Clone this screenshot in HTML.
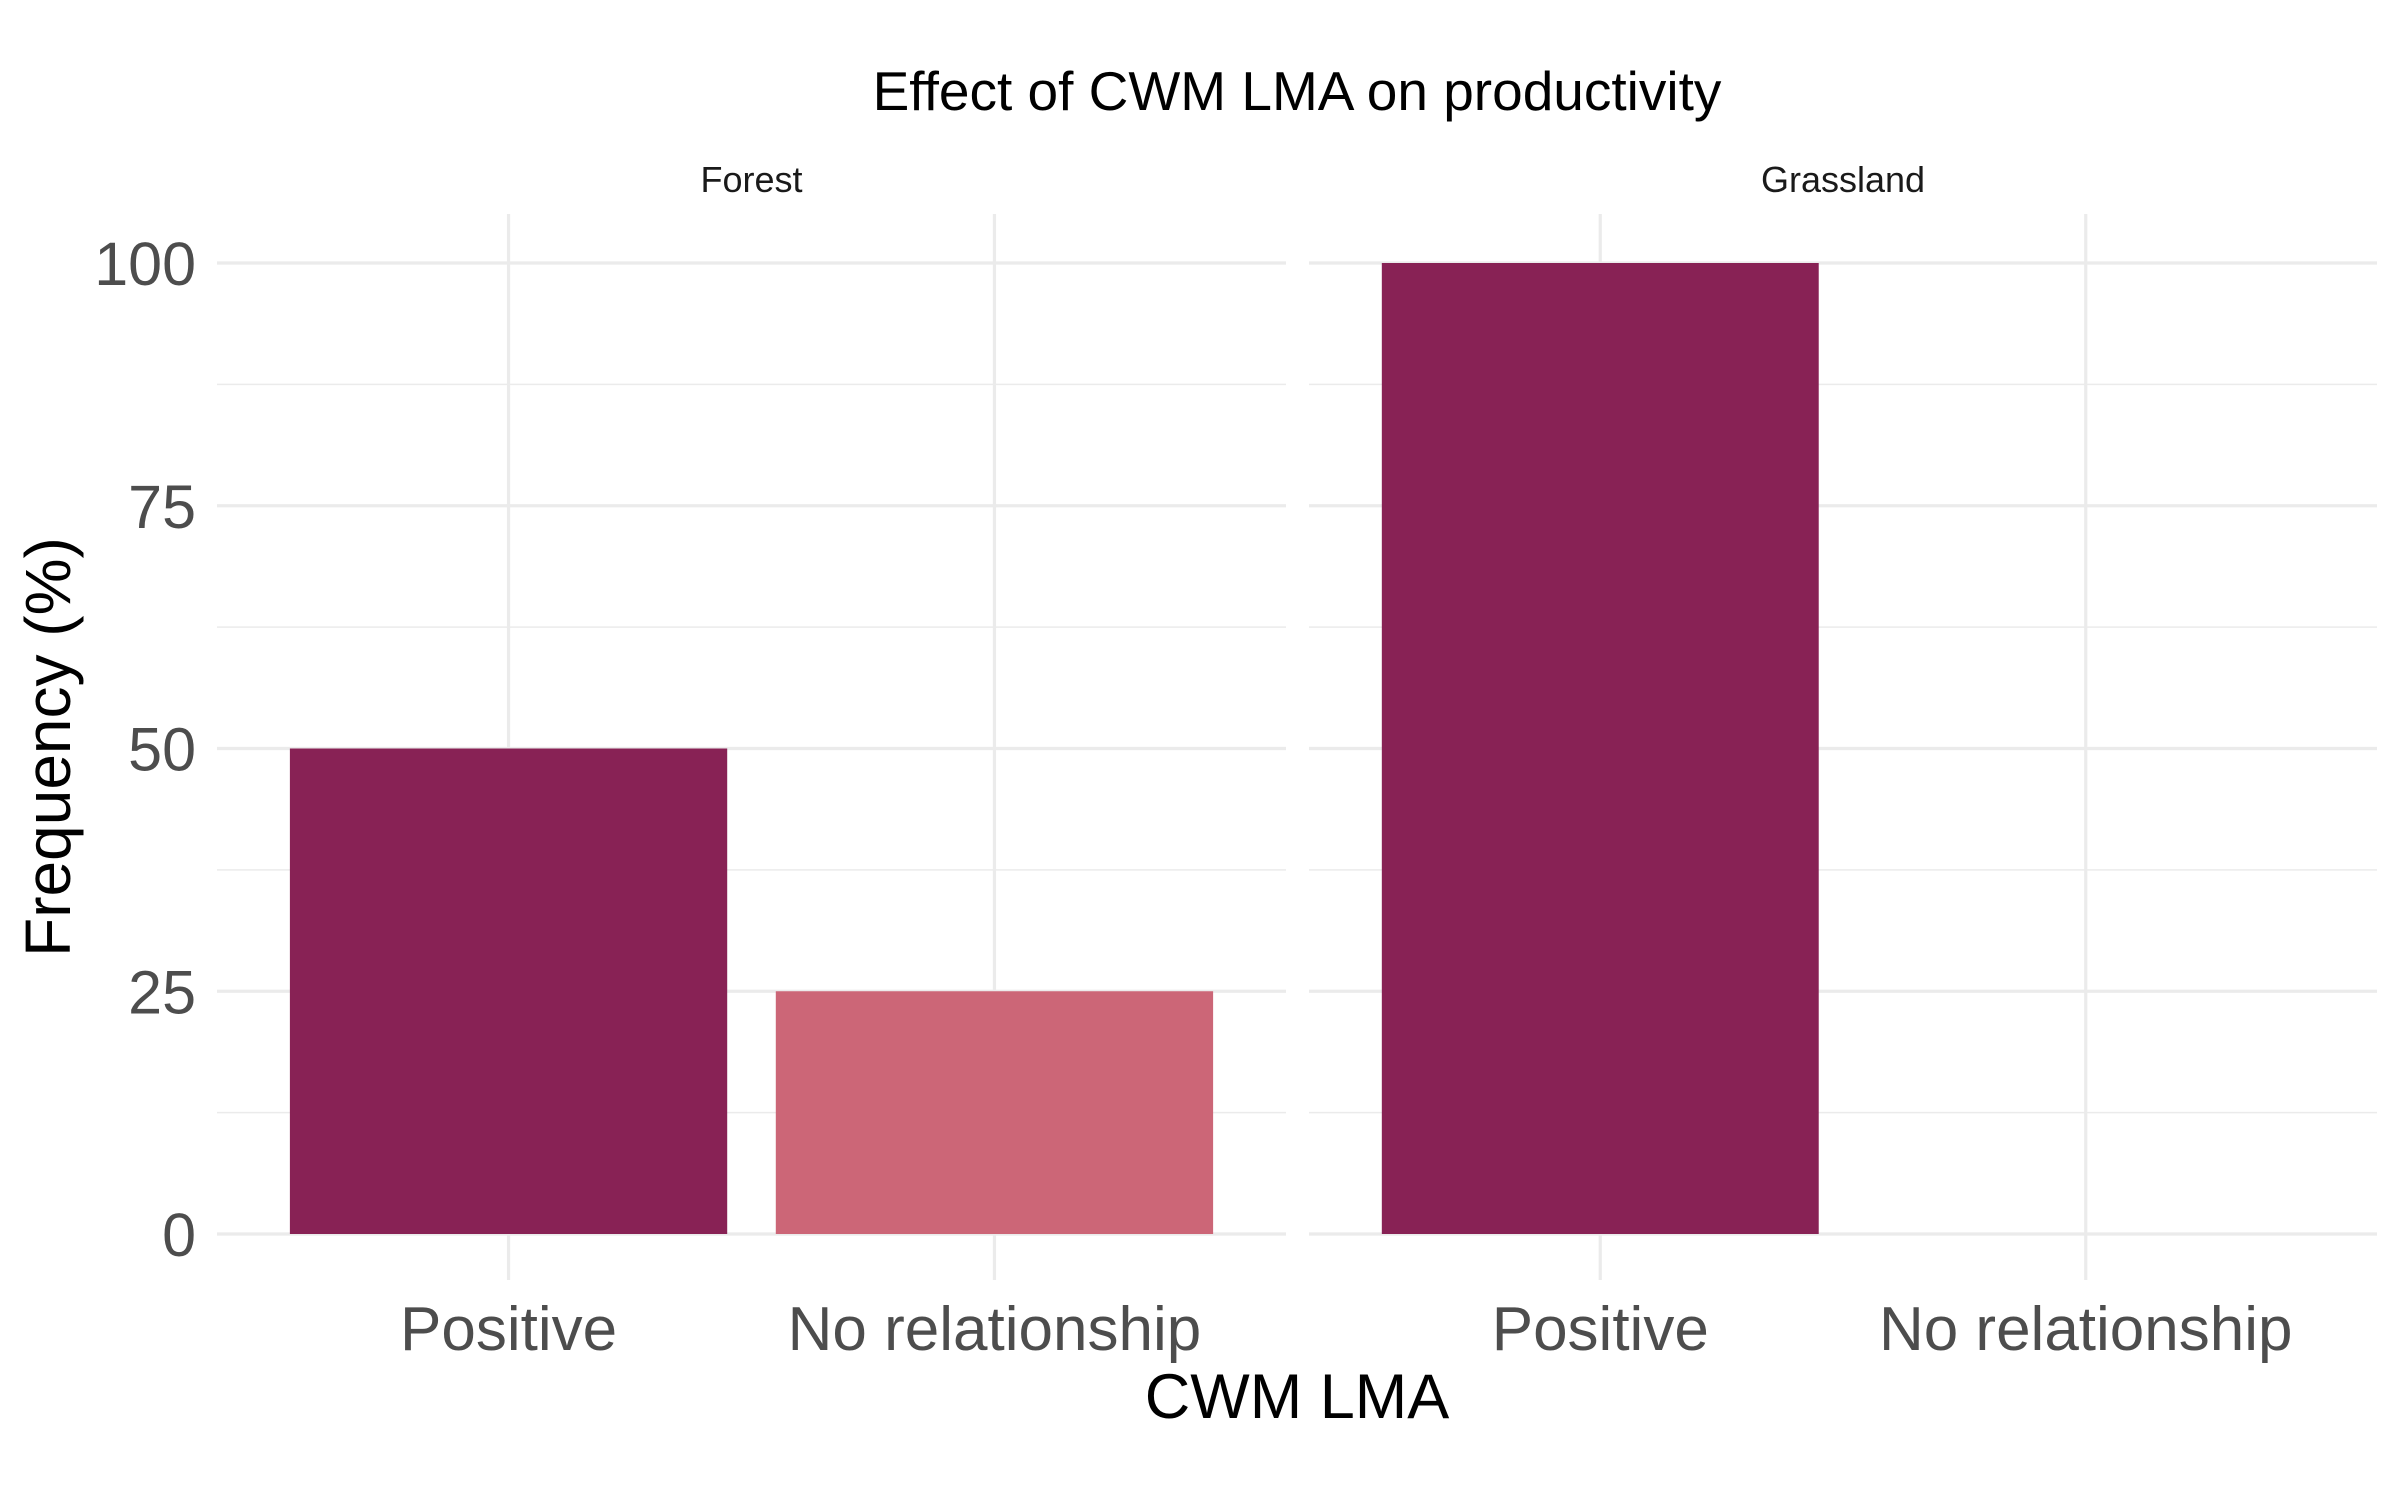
<!DOCTYPE html>
<html><head><meta charset="utf-8"><style>
html,body{margin:0;padding:0;background:#fff;}
svg{display:block;font-family:"Liberation Sans",Arial,sans-serif;}
</style></head><body>
<svg id="chart" width="2400" height="1500" viewBox="0 0 2400 1500">
<rect width="2400" height="1500" fill="#fff"/>
<text x="1297" y="110" font-size="55" text-anchor="middle" fill="#000">Effect of CWM LMA on productivity</text>
<text x="1297" y="1418" font-size="63" text-anchor="middle" fill="#000">CWM LMA</text>
<text transform="translate(70,747) rotate(-90)" font-size="64" text-anchor="middle" fill="#000">Frequency (%)</text>
<g id="plot"></g>
</svg>
<script>
const panels = ["Forest", "Grassland"];
const categories = ["Positive", "No relationship"];
const forestValues = [50, 25];
const grasslandValues = [100, 0];
const yTicks = [0, 25, 50, 75, 100];
const colors = ["#882255", "#CC6677"];

const svg = document.getElementById('plot');
const NS = "http://www.w3.org/2000/svg";
const panelX = [[217, 1286], [1309, 2377]];
const yTop = 214, yBot = 1280;
function y(v){ return 1234 - (v/100)*(1234-263); }
function span(){ return categories.length + 0.2; }
function x(p, i){ const [a,b]=panelX[p]; return a + (i+0.6)/span()*(b-a); }
function bw(p){ const [a,b]=panelX[p]; return 0.9/span()*(b-a); }
function mk(tag, attrs){ const e=document.createElementNS(NS,tag); for(const k in attrs) e.setAttribute(k,attrs[k]); svg.appendChild(e); return e; }

const allValues = [forestValues, grasslandValues];
panels.forEach((pn, p) => {
  const [a,b] = panelX[p];
  for (let i=0;i<yTicks.length-1;i++){
    const mv=(yTicks[i]+yTicks[i+1])/2;
    const l=mk('line',{x1:a,x2:b,y1:y(mv),y2:y(mv),stroke:'#EBEBEB','stroke-width':1.6});
    
    
  }
  yTicks.forEach(t=>{
    const l=mk('line',{x1:a,x2:b,y1:y(t),y2:y(t),stroke:'#EBEBEB','stroke-width':3.2});
    
    
  });
  categories.forEach((c,i)=>{
    const l=mk('line',{x1:x(p,i),x2:x(p,i),y1:yTop,y2:yBot,stroke:'#EBEBEB','stroke-width':3.2});
    
    
  });
  const st=mk('text',{x:(a+b)/2,y:192,'font-size':36,'text-anchor':'middle',fill:'#1a1a1a'});
  st.textContent=pn;
  
  
  categories.forEach((c,i)=>{
    const v=allValues[p][i];
    const w=bw(p);
    const r=mk('rect',{x:x(p,i)-w/2,y:y(v),width:w,height:Math.max(0,y(0)-y(v)),fill:colors[i]});
    
    
    const tl=mk('text',{x:x(p,i),y:1350,'font-size':62,'text-anchor':'middle',fill:'#4d4d4d'});
    tl.textContent=c;
    
    
  });
});
yTicks.forEach(t=>{
  const tl=mk('text',{x:196,y:y(t)+22,'font-size':61,'text-anchor':'end',fill:'#4d4d4d'});
  tl.textContent=t;
  
  
});
</script>
</body></html>
